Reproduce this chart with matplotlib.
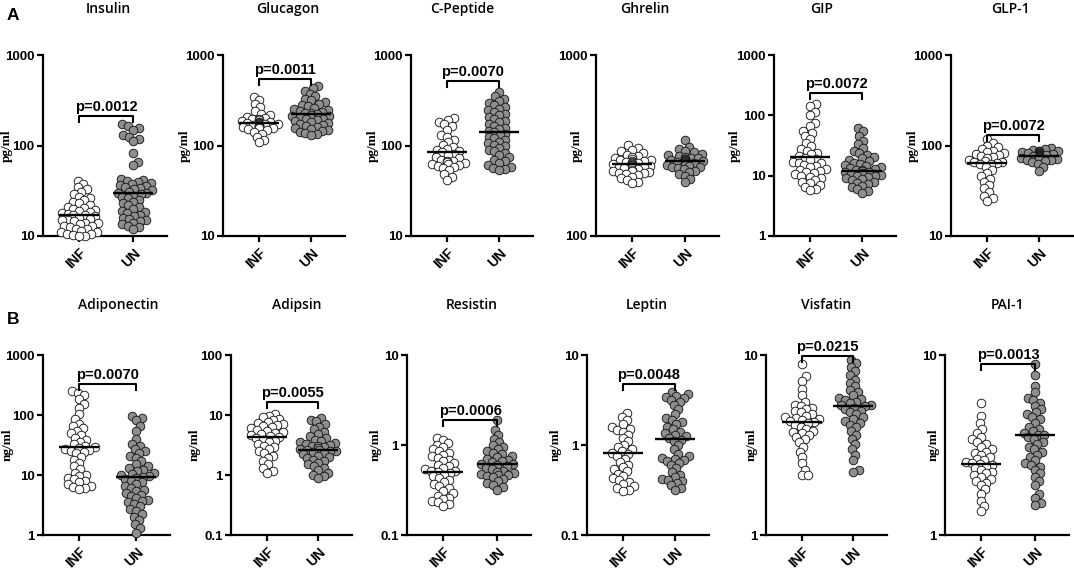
import numpy as np
import matplotlib
matplotlib.use("Agg")
import matplotlib.pyplot as plt

# ---------------- data ----------------
names = ["Insulin", "Glucagon", "C-Peptide", "Ghrelin", "GIP", "GLP-1",
         "Adiponectin", "Adipsin", "Resistin", "Leptin", "Visfatin", "PAI-1"]
units = ["pg/ml"] * 6 + ["ng/ml"] * 6
groups = ["INF", "UN"]

insulin_inf = [41, 38, 35, 33, 31, 29, 27, 26, 25, 24, 23, 22, 21, 20.5, 20, 19.5, 19, 18.5, 18, 17.5, 17, 17,
               16.5, 16, 15.5, 15, 15, 14.5, 14, 14, 13.5, 13, 13, 12.5, 12, 12, 11.5, 11, 11, 10.5, 10.5, 10.2, 10.1, 10]
insulin_un = [172, 165, 158, 150, 130, 125, 118, 112, 82, 66, 61, 43, 42, 41, 40, 39, 38, 37, 36, 35, 34, 33, 32, 31,
              30, 30, 29, 28, 27, 26, 25, 24, 23, 22, 21, 20, 19, 18.5, 18, 17, 16.5, 16, 15.5, 15, 14.5, 14, 13.5, 13, 12.5, 12]
glucagon_inf = [345, 320, 290, 265, 240, 225, 215, 208, 202, 198, 194, 190, 187, 184, 182, 180, 179, 178, 177, 176,
                175, 174, 173, 172, 171, 170, 168, 166, 164, 162, 160, 158, 156, 152, 148, 142, 135, 125, 115, 108]
glucagon_un = [455, 430, 400, 375, 350, 330, 315, 300, 290, 280, 270, 262, 255, 248, 242, 236, 230, 226, 222, 218,
               214, 210, 206, 202, 198, 194, 190, 186, 182, 178, 174, 170, 166, 162, 158, 154, 150, 146, 142, 138, 134, 130]
cpep_inf = [200, 192, 182, 172, 165, 150, 132, 125, 115, 108, 102, 97, 92, 89, 86, 84, 81, 78, 75, 72, 70, 68, 67,
            66, 65, 64, 63, 62, 61, 60, 58, 56, 53, 48, 45, 42]
cpep_un = [395, 350, 330, 310, 295, 280, 268, 256, 245, 235, 225, 215, 205, 196, 188, 180, 172, 165, 158, 152, 146,
           140, 135, 130, 125, 120, 115, 110, 106, 102, 98, 94, 90, 86, 82, 78, 74, 70, 67, 64, 61, 58, 56, 55, 54]
ghrelin_inf = [318, 308, 300, 293, 287, 282, 277, 273, 269, 266, 263, 262, 260, 258, 256, 255, 254, 252, 250, 249,
               248, 246, 245, 244, 242, 240, 238, 237, 235, 232, 230, 229, 226, 223, 222, 220, 216, 212, 208, 204, 200, 196]
ghrelin_un = [338, 312, 302, 296, 290, 285, 281, 277, 274, 271, 270, 268, 266, 265, 264, 262, 260, 259, 258, 256,
              255, 254, 252, 250, 248, 247, 245, 242, 240, 238, 234, 230, 225, 220, 214, 206, 198]
gip_inf = [155, 142, 112, 100, 75, 66, 56, 50, 45, 40, 35, 31, 28, 26, 24, 22.5, 21, 20, 19, 18, 17, 16.5, 16, 15,
           14.5, 14, 13, 12.5, 12, 11.5, 11, 10.5, 10, 9.5, 9, 8.5, 8, 7.5, 7, 6.5, 6, 5.7]
gip_un = [61, 55, 46, 38, 33, 29, 26, 24, 22, 20.5, 19.5, 18.5, 17.5, 16.5, 15.5, 15, 14.5, 14, 13.5, 13, 12.5, 12.2,
          12, 11.7, 11.4, 11, 10.7, 10.4, 10, 9.7, 9.4, 9, 8.7, 8.4, 8, 7.6, 7.2, 6.8, 6.4, 6, 5.6, 5.2]
glp1_inf = [118, 106, 100, 96, 92, 88, 85, 82, 80, 78, 76, 74, 72, 70, 68, 66, 65, 64, 63, 62,
            58, 54, 50, 46, 43, 40, 37, 34, 31, 28, 26, 24.5]
glp1_un = [93, 91, 89, 88, 87, 86, 85, 84, 83, 82, 81, 80, 80, 79, 79, 78, 78, 77, 77, 76, 76, 75, 75, 74, 73, 72,
           71, 70, 69, 67, 65, 62, 58, 52]
adipo_inf = [250, 232, 212, 185, 150, 132, 102, 86, 72, 66, 60, 55, 50, 46, 42, 39, 36, 33, 31, 29.5, 28.5, 27.5,
             26.5, 25.5, 24.5, 23, 20, 18, 16, 14, 12.5, 11, 10, 9.5, 9, 8.5, 8, 7.5, 7, 6.6, 6.3, 6.1, 5.9]
adipo_un = [98, 90, 84, 65, 55, 40, 33, 30, 27, 25, 23, 21, 19, 17, 15, 14, 13, 12, 11.5, 11, 10.5, 10, 9.7, 9.4, 9,
            8.5, 8, 7.5, 7, 6.5, 6, 5.7, 5.4, 5, 4.7, 4.4, 4.1, 3.9, 3.7, 3.5, 3.3, 3, 2.7, 2.5, 2.2, 2, 1.8, 1.5, 1.3, 1.1]
adipsin_inf = [10.2, 9.6, 9.1, 8.6, 8.1, 7.7, 7.3, 7.0, 6.8, 6.5, 6.2, 6.0, 5.7, 5.4, 5.2, 5.0, 4.8, 4.6, 4.4, 4.3,
               4.1, 3.9, 3.7, 3.5, 3.3, 3.1, 2.9, 2.7, 2.5, 2.3, 2.1, 1.9, 1.7, 1.5, 1.3, 1.15, 1.1]
adipsin_un = [9.0, 8.4, 7.8, 7.0, 6.4, 5.8, 5.3, 4.9, 4.5, 4.2, 3.9, 3.7, 3.5, 3.4, 3.3, 3.2, 3.1, 3.0, 2.9, 2.8,
              2.7, 2.65, 2.6, 2.55, 2.5, 2.4, 2.3, 2.2, 2.1, 2.0, 1.9, 1.8, 1.7, 1.6, 1.5, 1.4, 1.3, 1.2, 1.1, 1.0, 0.95, 0.88]
resistin_inf = [1.2, 1.15, 1.05, 1.0, 0.95, 0.9, 0.86, 0.82, 0.78, 0.75, 0.72, 0.69, 0.66, 0.63, 0.6, 0.58, 0.56,
                0.54, 0.52, 0.51, 0.5, 0.49, 0.47, 0.45, 0.43, 0.41, 0.39, 0.37, 0.35, 0.33, 0.31, 0.29, 0.27, 0.26,
                0.25, 0.24, 0.23, 0.22, 0.21]
resistin_un = [1.9, 1.47, 1.3, 1.17, 1.07, 1.0, 0.95, 0.9, 0.86, 0.82, 0.79, 0.76, 0.73, 0.7, 0.68, 0.66, 0.64, 0.62,
               0.61, 0.6, 0.58, 0.56, 0.54, 0.52, 0.5, 0.49, 0.48, 0.47, 0.46, 0.45, 0.44, 0.42, 0.4, 0.38, 0.36, 0.34, 0.32]
leptin_inf = [2.25, 2.05, 1.9, 1.7, 1.6, 1.5, 1.45, 1.4, 1.3, 1.2, 1.1, 1.0, 0.95, 0.9, 0.85, 0.82, 0.8, 0.75, 0.7,
              0.65, 0.6, 0.57, 0.54, 0.51, 0.48, 0.45, 0.43, 0.41, 0.39, 0.37, 0.35, 0.33, 0.32, 0.31]
leptin_un = [3.9, 3.7, 3.5, 3.4, 3.3, 3.2, 3.0, 2.8, 2.5, 2.2, 2.0, 1.9, 1.8, 1.7, 1.6, 1.5, 1.4, 1.35, 1.3, 1.25,
             1.2, 1.15, 1.1, 1.0, 0.9, 0.8, 0.75, 0.72, 0.7, 0.68, 0.66, 0.63, 0.6, 0.55, 0.5, 0.47, 0.44, 0.42, 0.41,
             0.4, 0.38, 0.36, 0.33, 0.32]
visfatin_inf = [8.9, 7.6, 7.2, 6.5, 6.0, 5.5, 5.3, 5.2, 5.1, 5.0, 4.9, 4.8, 4.7, 4.6, 4.5, 4.45, 4.4, 4.35, 4.3,
                4.25, 4.2, 4.1, 4.0, 3.9, 3.8, 3.75, 3.7, 3.6, 3.5, 3.4, 3.3, 3.1, 2.9, 2.7, 2.5, 2.3, 2.15, 2.15]
visfatin_un = [9.4, 9.0, 8.6, 8.1, 7.7, 7.3, 7.0, 6.7, 6.4, 6.2, 6.0, 5.8, 5.7, 5.6, 5.5, 5.4, 5.3, 5.25, 5.2, 5.1,
               5.0, 4.9, 4.8, 4.7, 4.5, 4.4, 4.3, 4.2, 4.1, 4.0, 3.8, 3.6, 3.4, 3.2, 3.0, 2.8, 2.6, 2.3, 2.25]
pai1_inf = [5.4, 4.6, 4.2, 3.9, 3.7, 3.5, 3.4, 3.3, 3.2, 3.1, 3.0, 2.9, 2.85, 2.8, 2.7, 2.65, 2.6, 2.55, 2.5, 2.48,
            2.45, 2.4, 2.35, 2.3, 2.25, 2.2, 2.15, 2.1, 2.05, 2.0, 1.95, 1.9, 1.8, 1.7, 1.55, 1.45, 1.36]
pai1_un = [8.9, 7.7, 6.7, 6.2, 5.8, 5.6, 5.4, 5.2, 5.0, 4.8, 4.7, 4.5, 4.4, 4.2, 4.0, 3.9, 3.8, 3.7, 3.6, 3.6, 3.5,
           3.4, 3.3, 3.2, 3.1, 3.0, 2.9, 2.8, 2.7, 2.6, 2.5, 2.45, 2.4, 2.3, 2.2, 2.1, 2.0, 1.9, 1.7, 1.6, 1.5, 1.46]

inf_values = [insulin_inf, glucagon_inf, cpep_inf, ghrelin_inf, gip_inf, glp1_inf,
              adipo_inf, adipsin_inf, resistin_inf, leptin_inf, visfatin_inf, pai1_inf]
un_values = [insulin_un, glucagon_un, cpep_un, ghrelin_un, gip_un, glp1_un,
             adipo_un, adipsin_un, resistin_un, leptin_un, visfatin_un, pai1_un]

# central (median) line values
center_inf = [17, 179, 84, 250, 20.6, 64, 29, 4.35, 0.5, 0.81, 4.26, 2.48]
center_un = [30, 221, 140, 258, 12.1, 77, 9.4, 2.61, 0.61, 1.17, 5.21, 3.59]

p_labels = ["p=0.0012", "p=0.0011", "p=0.0070", None, "p=0.0072", "p=0.0072",
            "p=0.0070", "p=0.0055", "p=0.0006", "p=0.0048", "p=0.0215", "p=0.0013"]
bracket_y = [212, 538, 516, None, 232, 130, 324, 16.3, 1.9, 4.72, 9.87, 8.9]

y_ticks = [[10, 100, 1000], [10, 100, 1000], [10, 100, 1000], [100, 1000], [1, 10, 100, 1000], [10, 100, 1000],
           [1, 10, 100, 1000], [0.1, 1, 10, 100], [0.1, 1, 10], [0.1, 1, 10], [1, 10], [1, 10]]
y_tick_labels = [[("%g" % v) for v in t] for t in y_ticks]

# ---------------- layout (pixels) ----------------
W, H = 1074, 570
# INF position, UN position (px); axes extend 36 px left of INF and 34 px right of UN
cat_px = [(79, 133), (259, 311), (447, 499), (632, 685), (810, 862), (987, 1039),
          (79, 136), (267, 318), (443, 497), (623, 675), (802, 853), (981, 1035)]
ylabel_x = [7, 185, 373, 577, 735, 913, 8, 195, 376, 556, 752, 934]
row_top = [55, 355]
row_bot = [236, 535]
title_x = [108, 288, 462, 645, 822, 1010, 118, 297, 472, 647, 826, 1007]
title_y = [9, 305]

fig = plt.figure(figsize=(W / 100, H / 100), dpi=100)
fig.patch.set_facecolor("white")

TICKFONT = "Liberation Sans"
DIAM = 8.6  # marker diameter in px


def swarm(ypx, d, maxw):
    order = np.argsort(ypx)
    placed = []
    offs = np.zeros(len(ypx))
    for i in order:
        y = ypx[i]
        near = [(px, py) for px, py in placed if abs(py - y) < d]
        cands = [0.0]
        for px, py in near:
            dx = np.sqrt(max(d * d - (py - y) ** 2, 0))
            cands += [px + dx, px - dx]
        cands = [c for c in cands if abs(c) <= maxw] or [0.0]
        cands.sort(key=abs)
        best = cands[0]
        for c in cands:
            if all((c - px) ** 2 + (y - py) ** 2 >= d * d - 1e-6 for px, py in near):
                best = c
                break
        offs[i] = best
        placed.append((best, y))
    return offs


for k in range(12):
    row = k // 6
    xi, xu = cat_px[k]
    l, r = xi - 36, xu + 34
    t, b = row_top[row], row_bot[row]
    ax = fig.add_axes([l / W, 1 - b / H, (r - l) / W, (b - t) / H])
    sp = xu - xi
    ax.set_xlim((l - xi) / sp, (r - xi) / sp)
    ax.set_yscale("log")
    ax.set_ylim(y_ticks[k][0], y_ticks[k][-1])
    for s in ["top", "right"]:
        ax.spines[s].set_visible(False)
    for s in ["left", "bottom"]:
        ax.spines[s].set_linewidth(1.6)
    ax.minorticks_off()
    ax.set_yticks(y_ticks[k])
    ax.set_yticklabels(y_tick_labels[k], fontsize=9.5, fontweight="bold", family=TICKFONT)
    ax.set_xticks([0, 1])
    ax.set_xticklabels(groups, rotation=45, ha="right", rotation_mode="anchor",
                       fontsize=10, fontweight="bold", family=TICKFONT)
    ax.tick_params(axis="both", length=4, width=1.6, pad=2)
    ax.tick_params(axis="x", pad=3)

    ppu = ax.transData.transform((1, 1))[0] - ax.transData.transform((0, 1))[0]
    for gi, (vals, fc, cen) in enumerate([(inf_values[k], "white", center_inf[k]),
                                          (un_values[k], "#8e8e8e", center_un[k])]):
        vals = np.array(vals, dtype=float)
        ypx = ax.transData.transform(np.column_stack([np.zeros_like(vals), vals]))[:, 1]
        offs = swarm(ypx, DIAM * 0.7, 19)
        ax.scatter(gi + offs / ppu, vals, s=(DIAM * 0.72) ** 2, facecolor=fc, edgecolor="#1a1a1a",
                   linewidth=0.65, zorder=3, clip_on=False)
        hw = 20 / ppu
        ax.plot([gi - hw, gi + hw], [cen, cen], color="black", lw=1.7, zorder=4,
                solid_capstyle="butt", clip_on=False)

    if p_labels[k]:
        by = bracket_y[k]
        bpx = ax.transData.transform((0, by))[1]
        low = ax.transData.inverted().transform((0, bpx - 6))[1]
        ax.plot([0, 0, 1, 1], [low, by, by, low], color="black", lw=1.5, zorder=5, clip_on=False)
        ax.annotate(p_labels[k], xy=(0.5, by), xytext=(0, 1.5), textcoords="offset points",
                    ha="center", va="bottom", fontsize=10.5, fontweight="bold", family=TICKFONT,
                    annotation_clip=False)

    fig.text(ylabel_x[k] / W, 1 - ((t + b) / 2) / H, units[k], rotation=90, ha="center", va="center",
             fontsize=9.5, fontweight="bold", family="Liberation Serif")
    fig.text(title_x[k] / W, 1 - title_y[row] / H, names[k], ha="center", va="center",
             fontsize=10, family="Open Sans", fontweight="semibold")

fig.text(13 / W, 1 - 16 / H, "A", ha="center", va="center", fontsize=12.5, fontweight="bold", family=TICKFONT)
fig.text(13 / W, 1 - 320 / H, "B", ha="center", va="center", fontsize=12.5, fontweight="bold", family=TICKFONT)

fig.savefig("out.png", dpi=100)
